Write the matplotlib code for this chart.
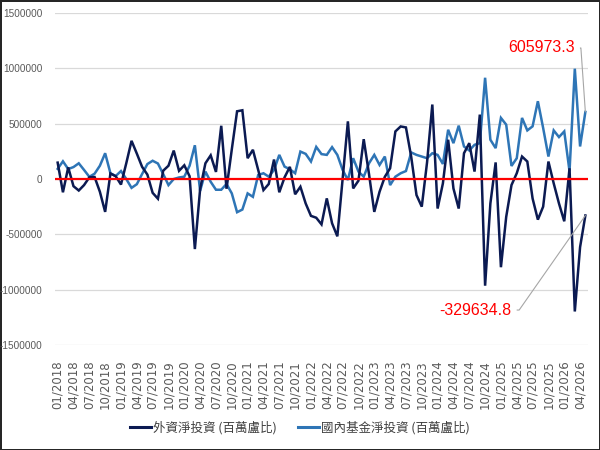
import matplotlib
matplotlib.use("Agg")
import matplotlib.pyplot as plt
from matplotlib import font_manager
import pandas as pd

# ---------------- data ----------------
months = pd.date_range("2018-01-01", periods=101, freq="MS").strftime("%m/%Y").tolist()

foreign = [148000, -120000, 105000, -65000, -104000, -55000, 15000, 18000, -115000, -297000,
           50000, 25000, -50000, 142000, 345000, 230000, 110000, 40000, -125000, -178000,
           75000, 120000, 257000, 74000, 124000, 25000, -633000, -90000, 142000, 214000,
           64000, 481000, -88000, 268000, 612000, 621000, 188000, 264000, 82000, -100000,
           -45000, 176000, -120000, 15000, 110000, -138000, -70000, -221000, -333000, -350000,
           -410000, -175000, -400000, -518000, 0, 521000, -85000, -15000, 360000, 45000,
           -297000, -115000, 20000, 97000, 430000, 475000, 466000, 200000, -145000, -250000,
           150000, 673000, -267000, -40000, 355000, -85000, -267000, 233000, 324000, 67000,
           582000, -964000, -221000, 150000, -797000, -342000, -55000, 52000, 203000, 158000,
           -176000, -367000, -250000, 158000, -39000, -221000, -382000, 97000, -1197000, -615000,
           -329634.8]

domestic = [92000, 160000, 90000, 108000, 142000, 82000, 20000, 48000, 120000, 233000,
            52000, 27000, 72000, 0, -80000, -47000, 45000, 135000, 165000, 140000,
            45000, -55000, 0, 14000, 21000, 120000, 305000, -107000, 67000, -25000,
            -97000, -97000, -45000, -130000, -300000, -276000, -130000, -161000, 36000, 52000,
            21000, 82000, 218000, 112000, 88000, 52000, 248000, 227000, 158000, 290000,
            225000, 218000, 288000, 218000, 82000, -9000, 188000, 67000, 21000, 142000,
            218000, 127000, 203000, -55000, 21000, 52000, 72000, 240000, 218000, 203000,
            188000, 233000, 218000, 136000, 445000, 324000, 482000, 294000, 258000, 309000,
            324000, 915000, 355000, 279000, 552000, 491000, 118000, 188000, 552000, 439000,
            476000, 703000, 461000, 203000, 439000, 379000, 430000, 70000, 997000, 294000,
            605973.3]

series_labels = ["外資淨投資 (百萬盧比)", "國內基金淨投資 (百萬盧比)"]
yticks = [-1500000, -1000000, -500000, 0, 500000, 1000000, 1500000]

# ---------------- fonts ----------------
def have(fam):
    try:
        font_manager.findfont(font_manager.FontProperties(family=fam), fallback_to_default=False)
        return True
    except Exception:
        return False

narrow = "Liberation Sans Narrow" if have("Liberation Sans Narrow") else None
if narrow:
    num_font, ytick_size, ann_size = [narrow, "DejaVu Sans"], 8.2, 13.5
else:
    num_font, ytick_size, ann_size = ["Liberation Sans", "DejaVu Sans"], 7.2, 11.5

cjk_font = ["Noto Sans CJK TC", "DejaVu Sans"]

navy = "#0b1a52"
blue = "#2e75b6"

fig = plt.figure(figsize=(6, 4.5), dpi=100, linewidth=2, edgecolor="#262626")
ax = fig.add_axes([0.0917, 0.2333, 0.8883, 0.7378])

x = list(range(len(months)))
l1, = ax.plot(x, foreign, color=navy, lw=1.8, label=series_labels[0], zorder=3,
              solid_joinstyle="miter")
l2, = ax.plot(x, domestic, color=blue, lw=1.8, label=series_labels[1], zorder=2,
              solid_joinstyle="miter")
ax.axhline(0, color="#ff0000", lw=1.6, zorder=4)

ax.set_xlim(-0.5, len(months) - 0.5)
ax.set_ylim(-1500000, 1500000)
ax.set_yticks(yticks)
ax.set_yticklabels([str(v) for v in yticks], fontfamily=num_font, fontsize=ytick_size,
                   color="#595959")
ax.yaxis.grid(True, color="#d9d9d9", lw=0.9)
ax.set_axisbelow(True)

tick_pos = x[::3]
ax.set_xticks(tick_pos)
ax.set_xticklabels([months[i] for i in tick_pos], rotation=90, fontfamily="DejaVu Sans",
                   fontsize=8.5, color="#595959", va="top", ha="center")
ax.tick_params(axis="both", length=0)
ax.tick_params(axis="x", pad=11)
ax.tick_params(axis="y", pad=9)
for s in ax.spines.values():
    s.set_visible(False)

# annotations for last values
ax.annotate(f"{domestic[-1]:.1f}", xy=(x[-1], domestic[-1]), xytext=(98.0, 1184000),
            ha="right", va="center", color="#ff0000", fontsize=ann_size, fontfamily=num_font,
            arrowprops=dict(arrowstyle="-", color="#a6a6a6", lw=0.8, shrinkA=2, shrinkB=0,
                            connectionstyle="angle,angleA=0,angleB=94,rad=0"))
ax.annotate(f"{foreign[-1]:.1f}", xy=(x[-1], foreign[-1]), xytext=(86.0, -1184000),
            ha="right", va="center", color="#ff0000", fontsize=ann_size, fontfamily=num_font,
            arrowprops=dict(arrowstyle="-", color="#a6a6a6", lw=0.8, shrinkA=2, shrinkB=0,
                            connectionstyle="angle,angleA=0,angleB=235,rad=0"))

leg = fig.legend(handles=[l1, l2], loc="center", bbox_to_anchor=(0.5, 0.049), ncol=2,
                 frameon=False, prop={"family": cjk_font, "size": 9.0},
                 handlelength=1.7, handletextpad=0.15, columnspacing=1.7)
for t in leg.get_texts():
    t.set_color("#404040")
for h in leg.legend_handles:
    h.set_linewidth(2.2)

fig.savefig("out.png", dpi=100, edgecolor=fig.get_edgecolor())
